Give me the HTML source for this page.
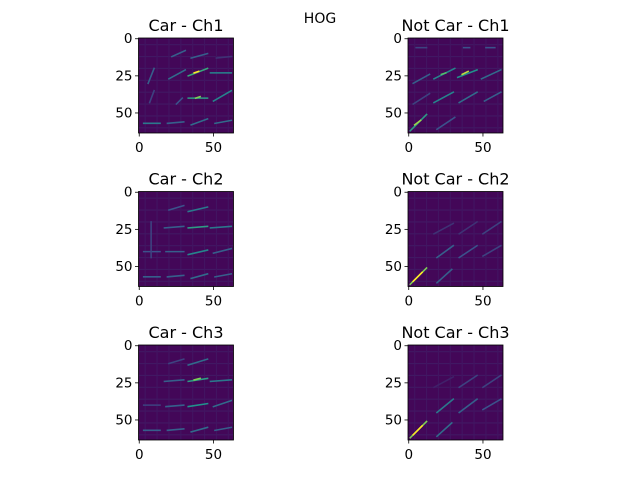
<!DOCTYPE html>
<html><head><meta charset="utf-8"><style>
body{margin:0;background:#fff;}
svg{display:block;font-family:"DejaVu Sans","Liberation Sans",sans-serif;}
</style></head><body>
<svg id="fig" width="640" height="480" viewBox="0 0 640 480">
<rect width="640" height="480" fill="#fff"/>
<text x="320" y="23" text-anchor="middle" font-size="14">HOG</text>
</svg>
<script>
const panelTitles=["Car - Ch1","Not Car - Ch1","Car - Ch2","Not Car - Ch2","Car - Ch3","Not Car - Ch3"];
const yTicks=[0,25,50];
const xTicks=[0,50];
// segments: [x1,y1,x2,y2,value 0..1] in image pixel coordinates (0..63)
const segCarCh1=[[3,57,14,57,0.4],[19,57,30,56,0.3],[35,58,46,54,0.35],[51,57,62,55,0.35],[22,12,31,8,0.3],[35,13,46,10,0.3],[33,25,46,20,0.6],[37,23,40,22,1.0],[48,23,62,23,0.45],[33,40,46,40,0.55],[38,40,41,39,0.8],[50,42,62,35,0.45],[20,27,31,21,0.35],[6,30,10,20,0.3],[7,43,10,35,0.2],[25,44,29,40,0.25],[52,13,62,12,0.15]];
const segNotCh1=[[17,27,31,20,0.45],[22,24,25,23,0.7],[33,26,46,21,0.5],[36,24,40,22,0.9],[49,27,62,21,0.35],[3,30,14,24,0.3],[17,43,30,36,0.45],[34,43,46,36,0.35],[51,42,62,36,0.3],[1,62,12,51,0.55],[4,58,8,55,0.85],[19,61,31,53,0.25],[3,44,14,37,0.2],[5,6,12,6,0.2],[37,6,41,6,0.25],[52,6,58,6,0.25]];
const segCarCh2=[[33,13,46,10,0.4],[20,12,30,9,0.25],[33,24,46,23,0.55],[48,24,62,23,0.4],[17,24,30,23,0.3],[3,40,14,40,0.25],[18,40,30,40,0.3],[33,42,46,39,0.45],[50,41,62,38,0.3],[3,57,14,57,0.3],[19,57,30,56,0.3],[35,58,46,55,0.35],[51,57,62,55,0.3],[8,20,8,44,0.2]];
const segNotCh2=[[1,62,12,51,0.8],[3,60,9,54,1.0],[19,61,29,52,0.3],[19,44,30,36,0.3],[34,44,46,36,0.25],[50,43,62,36,0.2],[50,28,62,20,0.2],[34,28,46,20,0.15],[17,28,30,21,0.15]];
const segCarCh3=[[33,13,46,9,0.35],[20,12,30,9,0.2],[33,24,46,22,0.55],[37,23,41,22,0.8],[48,24,62,23,0.4],[17,24,30,23,0.3],[3,40,14,40,0.2],[18,41,30,40,0.3],[33,41,46,39,0.5],[50,41,62,37,0.35],[3,57,14,57,0.3],[19,57,30,56,0.3],[35,58,46,55,0.35],[51,57,62,55,0.3]];
const segNotCh3=[[1,62,12,51,0.8],[3,60,9,54,1.0],[19,61,29,52,0.35],[19,45,30,36,0.4],[34,45,46,36,0.3],[50,43,62,36,0.25],[50,28,62,20,0.2],[34,28,46,20,0.2],[17,28,30,21,0.1]];
const panelSegs=[segCarCh1,segNotCh1,segCarCh2,segNotCh2,segCarCh3,segNotCh3];

const colLeft=[138.5,408];
const rowTop=[38,191.5,345];
const SIZE=95, N=64;
const ns="http://www.w3.org/2000/svg";
const svg=document.getElementById('fig');
const vir=[[0,[68,1,84]],[0.25,[59,82,139]],[0.5,[33,145,140]],[0.75,[94,201,98]],[1,[253,231,37]]];
function viridis(v){v=Math.max(0,Math.min(1,v));for(let i=1;i<vir.length;i++){if(v<=vir[i][0]){const a=vir[i-1],b=vir[i];const t=(v-a[0])/(b[0]-a[0]);const c=a[1].map((x,k)=>Math.round(x+(b[1][k]-x)*t));return `rgb(${c})`;}}return 'rgb(253,231,37)';}
function mk(tag,attrs){const e=document.createElementNS(ns,tag);for(const k in attrs)e.setAttribute(k,attrs[k]);svg.appendChild(e);return e;}
panelTitles.forEach((title,i)=>{
  const L=colLeft[i%2], T=rowTop[Math.floor(i/2)];
  const sx=d=>L+(d+0.5)*SIZE/N, sy=d=>T+(d+0.5)*SIZE/N;
  const bg=mk('rect',{x:L,y:T,width:SIZE,height:SIZE,fill:viridis(0.02)});
  
  
  // faint cell grid
  for(let c=0;c<8;c++){
    const g1=mk('line',{x1:L,x2:L+SIZE,y1:sy(c*8+4),y2:sy(c*8+4),stroke:viridis(0.07),'stroke-width':1.2});
    
    
    const g2=mk('line',{y1:T,y2:T+SIZE,x1:sx(c*8+4),x2:sx(c*8+4),stroke:viridis(0.06),'stroke-width':1.2});
    
    
  }
  panelSegs[i].forEach(s=>{
    const ln=mk('line',{x1:sx(s[0]),y1:sy(s[1]),x2:sx(s[2]),y2:sy(s[3]),stroke:viridis(s[4]),'stroke-width':1.6,'stroke-linecap':'square'});
    
    
  });
  const fr=mk('rect',{x:L,y:T,width:SIZE,height:SIZE,fill:'none',stroke:'#000','stroke-width':0.8});
  
  
  const tt=mk('text',{x:L+SIZE/2,y:T-7,'text-anchor':'middle','font-size':16});
  tt.textContent=title;
  
  
  yTicks.forEach(v=>{
    const tk=mk('line',{x1:L-3.5,x2:L,y1:sy(v),y2:sy(v),stroke:'#000','stroke-width':0.8});
    
    
    const lb=mk('text',{x:L-6,y:sy(v)+4.5,'text-anchor':'end','font-size':13.5});
    lb.textContent=v;
    
    
  });
  xTicks.forEach(v=>{
    const tk=mk('line',{x1:sx(v),x2:sx(v),y1:T+SIZE,y2:T+SIZE+3.5,stroke:'#000','stroke-width':0.8});
    
    
    const lb=mk('text',{x:sx(v),y:T+SIZE+19,'text-anchor':'middle','font-size':13.5});
    lb.textContent=v;
    
    
  });
});
</script>
</body></html>
